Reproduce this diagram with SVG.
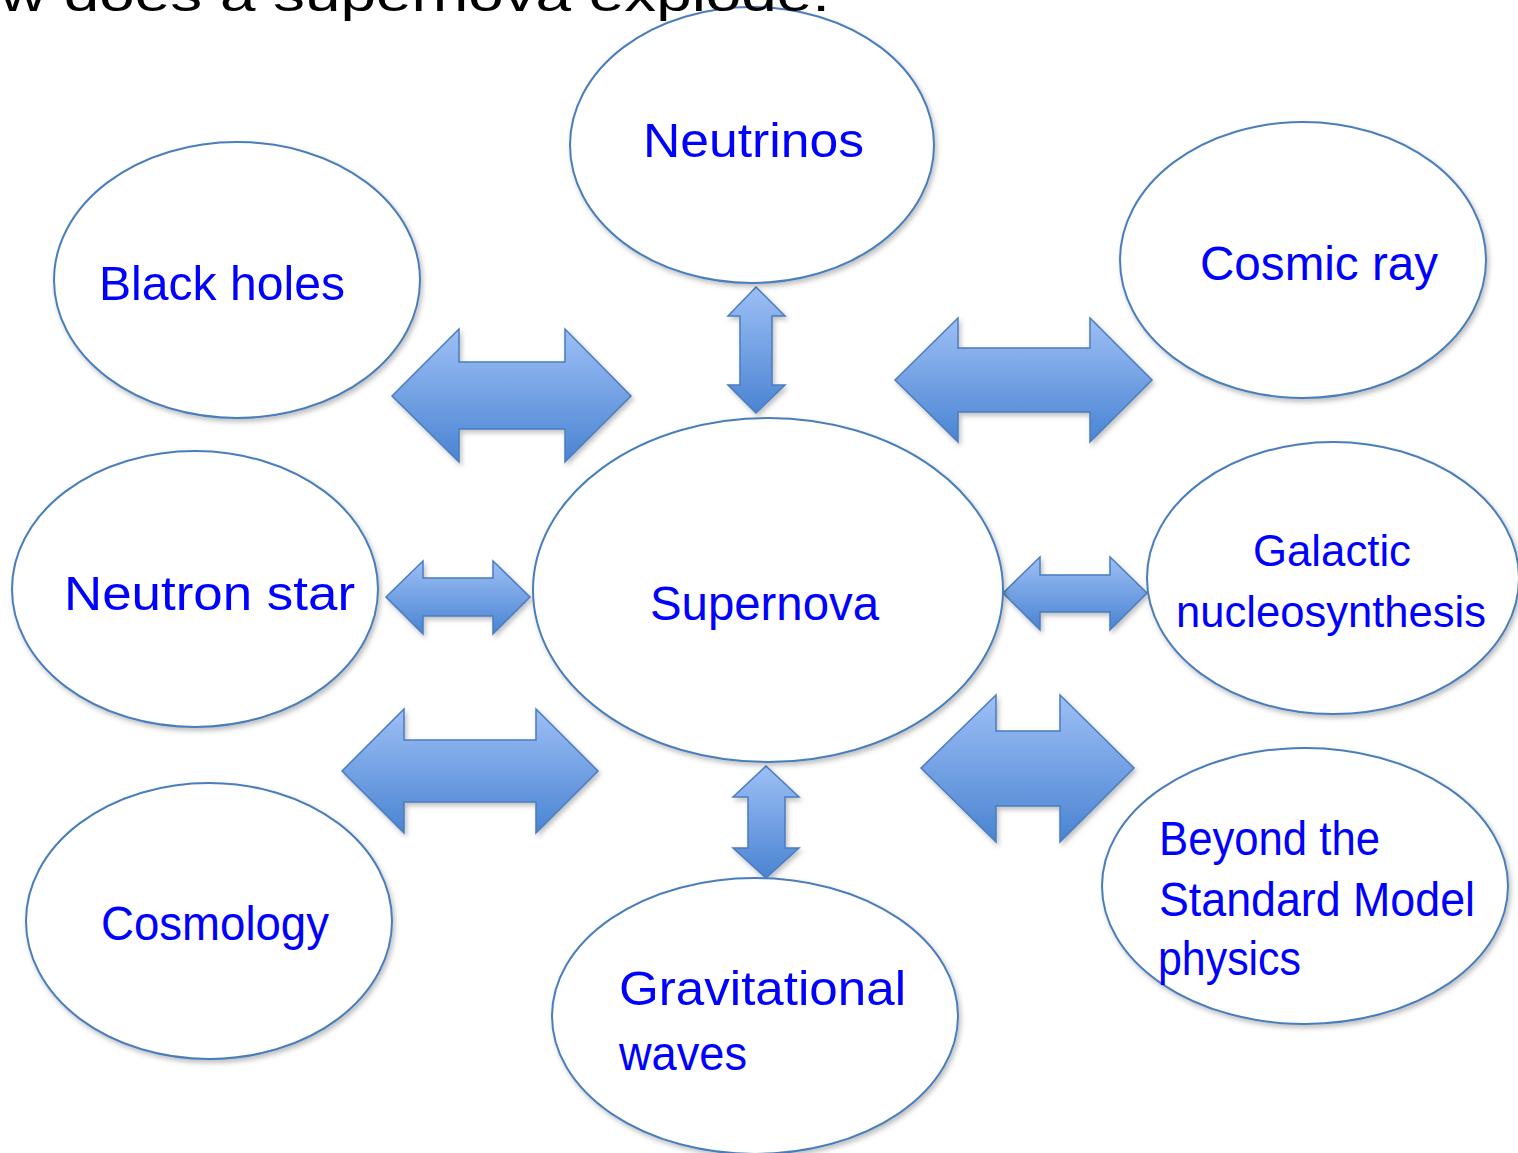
<svg xmlns="http://www.w3.org/2000/svg" width="1518" height="1153" viewBox="0 0 1518 1153">
<defs>
<linearGradient id="gh" x1="0" y1="0" x2="0" y2="1">
<stop offset="0" stop-color="#9dbff5"/>
<stop offset="1" stop-color="#4a84d2"/>
</linearGradient>
<filter id="sh" x="-10%" y="-10%" width="130%" height="130%">
<feDropShadow dx="2" dy="3" stdDeviation="2.5" flood-color="#000" flood-opacity="0.25"/>
</filter>
</defs>
<style>
.node ellipse{fill:#fff;stroke:#4a7ebb;stroke-width:2;filter:url(#sh)}
.node text{font-family:"Liberation Sans","DejaVu Sans",sans-serif;font-size:48px;fill:#0000ff}
.arr{fill:url(#gh);stroke:#4a7cc0;stroke-width:1.5;filter:url(#sh)}
.title{font-family:"Liberation Sans","DejaVu Sans",sans-serif;font-size:48px;fill:#000}
</style>
<rect width="1518" height="1153" fill="#fff"/>
<g id="connectors">
<path class="arr" d="M392,396 L459,329 L459,362 L565,362 L565,329 L631,396 L565,462 L565,429 L459,429 L459,462 Z"/>
<path class="arr" d="M895,380 L958,318 L958,348 L1090,348 L1090,318 L1152,380 L1090,442 L1090,412 L958,412 L958,442 Z"/>
<path class="arr" d="M386,597 L423,561 L423,578 L493,578 L493,561 L530,597 L493,634 L493,616 L423,616 L423,634 Z"/>
<path class="arr" d="M1003,593 L1040,557 L1040,575 L1110,575 L1110,557 L1147,593 L1110,630 L1110,612 L1040,612 L1040,630 Z"/>
<path class="arr" d="M342,771 L404,709 L404,740 L536,740 L536,709 L598,771 L536,833 L536,802 L404,802 L404,833 Z"/>
<path class="arr" d="M921,768 L996,695 L996,731 L1060,731 L1060,695 L1134,768 L1060,842 L1060,806 L996,806 L996,842 Z"/>
<path class="arr" d="M756,287 L785,316 L772,316 L772,385 L785,385 L756,413 L728,385 L740,385 L740,316 L728,316 Z"/>
<path class="arr" d="M766,766 L799,797 L785,797 L785,848 L799,848 L766,878 L733,848 L748,848 L748,797 L733,797 Z"/>
</g>
<g id="neutrinos" class="node"><ellipse cx="752" cy="145" rx="182" ry="138"/><text x="643" y="157" textLength="221" lengthAdjust="spacingAndGlyphs">Neutrinos</text></g>
<g id="black-holes" class="node"><ellipse cx="237" cy="280" rx="183" ry="138"/><text x="99" y="300" textLength="246" lengthAdjust="spacingAndGlyphs">Black holes</text></g>
<g id="cosmic-ray" class="node"><ellipse cx="1303" cy="260" rx="183" ry="138"/><text x="1200" y="280" textLength="238" lengthAdjust="spacingAndGlyphs">Cosmic ray</text></g>
<g id="neutron-star" class="node"><ellipse cx="195" cy="589" rx="183" ry="138"/><text x="64" y="610" textLength="291" lengthAdjust="spacingAndGlyphs">Neutron star</text></g>
<g id="supernova" class="node"><ellipse cx="768" cy="590" rx="235" ry="172"/><text x="650" y="620" textLength="229" lengthAdjust="spacingAndGlyphs">Supernova</text></g>
<g id="galactic" class="node"><ellipse cx="1333" cy="578" rx="186" ry="136"/><text x="1253" y="566" textLength="158" lengthAdjust="spacingAndGlyphs" style="font-size:44px">Galactic</text><text x="1176" y="627" textLength="310" lengthAdjust="spacingAndGlyphs" style="font-size:44px">nucleosynthesis</text></g>
<g id="cosmology" class="node"><ellipse cx="209" cy="921" rx="183" ry="138"/><text x="101" y="940" textLength="228" lengthAdjust="spacingAndGlyphs">Cosmology</text></g>
<g id="gravitational-waves" class="node"><ellipse cx="755" cy="1016" rx="203" ry="138"/><text x="619" y="1005" textLength="287" lengthAdjust="spacingAndGlyphs">Gravitational</text><text x="619" y="1070" textLength="128" lengthAdjust="spacingAndGlyphs">waves</text></g>
<g id="beyond" class="node"><ellipse cx="1305" cy="886" rx="203" ry="138"/><text x="1159" y="855" textLength="221" lengthAdjust="spacingAndGlyphs">Beyond the</text><text x="1159" y="916" textLength="316" lengthAdjust="spacingAndGlyphs">Standard Model</text><text x="1158" y="975" textLength="143" lengthAdjust="spacingAndGlyphs">physics</text></g>
<text class="title" x="0" y="11" textLength="830" lengthAdjust="spacingAndGlyphs">w does a supernova explode.</text>
</svg>
